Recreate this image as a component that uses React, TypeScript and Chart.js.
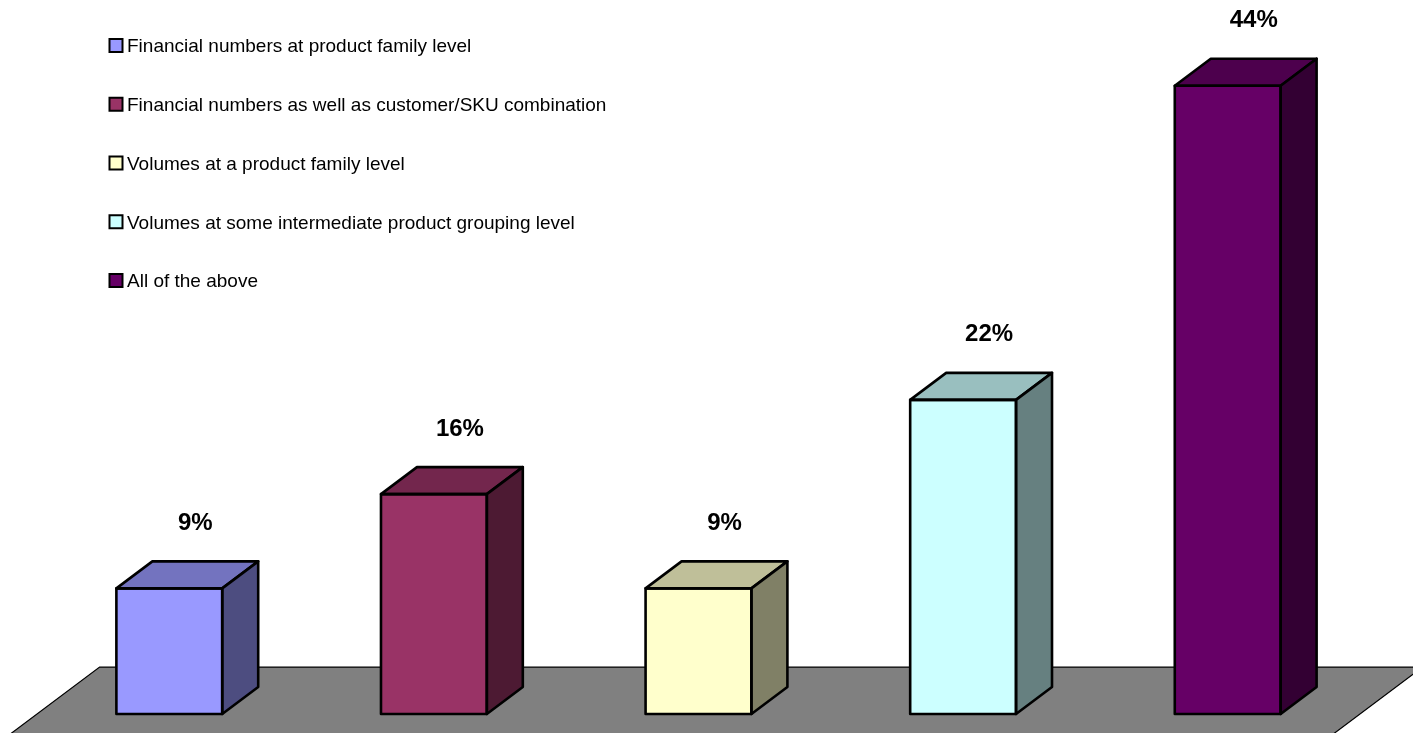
import React, { useEffect, useRef } from 'react';
import { Chart, registerables } from 'chart.js';

Chart.register(...registerables);

const categories = [
  'Financial numbers at product family level',
  'Financial numbers as well as customer/SKU combination',
  'Volumes at a product family level',
  'Volumes at some intermediate product grouping level',
  'All of the above',
];
const values = [8.8, 15.4, 8.8, 22.0, 44.0];
const valueLabels = ['9%', '16%', '9%', '22%', '44%'];
const frontColors = ['#9999FF', '#993366', '#FFFFCC', '#CCFFFF', '#660066'];
const topColors = ['#7373BF', '#73264D', '#BFBF99', '#99BFBF', '#4D004D'];
const sideColors = ['#4D4D80', '#4D1A33', '#808066', '#668080', '#330033'];

const W = 1413;
const H = 733;

function poly(ctx: CanvasRenderingContext2D, pts: number[][], fill: string, lw: number) {
  ctx.beginPath();
  ctx.moveTo(pts[0][0], pts[0][1]);
  for (let i = 1; i < pts.length; i++) ctx.lineTo(pts[i][0], pts[i][1]);
  ctx.closePath();
  ctx.fillStyle = fill;
  ctx.fill();
  ctx.lineWidth = lw;
  ctx.strokeStyle = '#000000';
  ctx.stroke();
}

const threeD = {
  id: 'threeD',
  beforeDatasetsDraw(chart: any) {
    const { ctx, chartArea, scales } = chart;
    const meta = chart.getDatasetMeta(0);
    const bw = meta.data[0].width;
    const dx = bw * 0.34;
    const dy = -bw * 0.255;
    const y0 = scales.y.getPixelForValue(0);
    const ff = -0.74;
    const bf = 1.74;
    ctx.save();
    ctx.lineJoin = 'miter';
    poly(
      ctx,
      [
        [chartArea.left + ff * dx, y0 + ff * dy],
        [chartArea.left + bf * dx, y0 + bf * dy],
        [chartArea.right + bf * dx, y0 + bf * dy],
        [chartArea.right + ff * dx, y0 + ff * dy],
      ],
      '#808080',
      1.2
    );
    ctx.restore();
  },
  afterDatasetsDraw(chart: any) {
    const { ctx } = chart;
    const meta = chart.getDatasetMeta(0);
    ctx.save();
    ctx.lineJoin = 'round';
    meta.data.forEach((el: any, i: number) => {
      const w = el.width;
      const dx = w * 0.34;
      const dy = -w * 0.255;
      const x0 = el.x - w / 2;
      const x1 = el.x + w / 2;
      const yt = el.y;
      const yb = el.base;
      poly(ctx, [[x0, yt], [x0 + dx, yt + dy], [x1 + dx, yt + dy], [x1, yt]], topColors[i], 2.6);
      poly(ctx, [[x1, yt], [x1 + dx, yt + dy], [x1 + dx, yb + dy], [x1, yb]], sideColors[i], 2.6);
      ctx.beginPath();
      ctx.rect(x0, yt, w, yb - yt);
      ctx.lineWidth = 2.6;
      ctx.strokeStyle = '#000000';
      ctx.stroke();
      ctx.fillStyle = '#000000';
      ctx.font = 'bold 24px "Liberation Sans", Arial, sans-serif';
      ctx.textAlign = 'center';
      ctx.textBaseline = 'alphabetic';
      ctx.fillText(valueLabels[i], el.x + 26, yt - 67 + 8.6);
    });
    ctx.restore();
  },
  afterDraw(chart: any) {
    const { ctx } = chart;
    ctx.save();
    const startY = 45.5;
    const step = 58.75;
    categories.forEach((c, i) => {
      const cy = startY + i * step;
      ctx.fillStyle = frontColors[i];
      ctx.fillRect(109.5, cy - 6.5, 13, 13);
      ctx.lineWidth = 2;
      ctx.strokeStyle = '#000000';
      ctx.strokeRect(109.5, cy - 6.5, 13, 13);
      ctx.fillStyle = '#000000';
      ctx.font = '19px "Liberation Sans", Arial, sans-serif';
      ctx.textAlign = 'left';
      ctx.textBaseline = 'alphabetic';
      ctx.fillText(c, 127, cy + 6.8);
    });
    ctx.restore();
  },
};

export default function App() {
  const ref = useRef<HTMLCanvasElement | null>(null);
  useEffect(() => {
    if (!ref.current) return;
    const chart = new Chart(ref.current, {
      type: 'bar',
      data: {
        labels: categories,
        datasets: [
          {
            data: values,
            backgroundColor: frontColors,
            borderWidth: 0,
            categoryPercentage: 0.8,
            barPercentage: 0.5,
          },
        ],
      },
      options: {
        animation: false,
        responsive: false,
        maintainAspectRatio: false,
        layout: { padding: { left: 37, right: 53, top: 0, bottom: 19 } },
        plugins: {
          legend: { display: false },
          tooltip: { enabled: false },
          title: { display: false },
        },
        scales: {
          x: { display: false },
          y: { display: false, min: 0, max: 50 },
        },
      },
      plugins: [threeD],
    });
    return () => chart.destroy();
  }, []);
  return (
    <div style={{ position: 'fixed', left: 0, top: 0, width: W, height: H, background: '#ffffff' }}>
      <canvas ref={ref} width={W} height={H} style={{ display: 'block', width: W, height: H }} />
    </div>
  );
}
